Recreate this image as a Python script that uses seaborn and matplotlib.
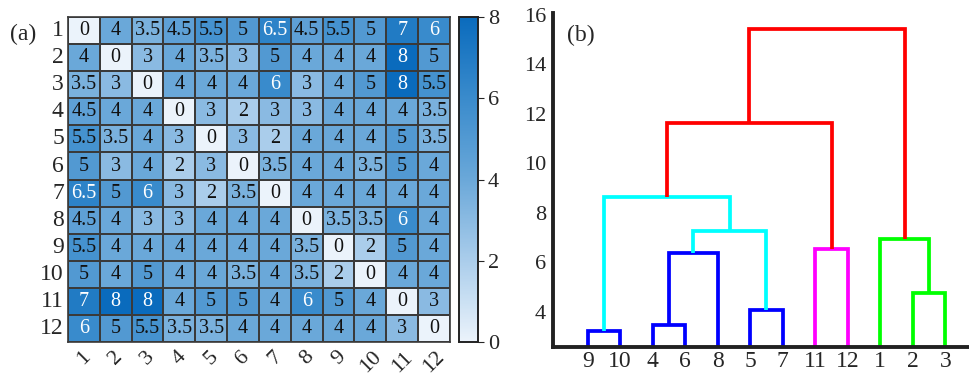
import numpy as np
import pandas as pd
import matplotlib
matplotlib.use("Agg")
import matplotlib.pyplot as plt
from matplotlib.colors import LinearSegmentedColormap
import seaborn as sns

# distance matrix (a)
labels = [str(i) for i in range(1, 13)]
dist = [
    [0, 4, 3.5, 4.5, 5.5, 5, 6.5, 4.5, 5.5, 5, 7, 6],
    [4, 0, 3, 4, 3.5, 3, 5, 4, 4, 4, 8, 5],
    [3.5, 3, 0, 4, 4, 4, 6, 3, 4, 5, 8, 5.5],
    [4.5, 4, 4, 0, 3, 2, 3, 3, 4, 4, 4, 3.5],
    [5.5, 3.5, 4, 3, 0, 3, 2, 4, 4, 4, 5, 3.5],
    [5, 3, 4, 2, 3, 0, 3.5, 4, 4, 3.5, 5, 4],
    [6.5, 5, 6, 3, 2, 3.5, 0, 4, 4, 4, 4, 4],
    [4.5, 4, 3, 3, 4, 4, 4, 0, 3.5, 3.5, 6, 4],
    [5.5, 4, 4, 4, 4, 4, 4, 3.5, 0, 2, 5, 4],
    [5, 4, 5, 4, 4, 3.5, 4, 3.5, 2, 0, 4, 4],
    [7, 8, 8, 4, 5, 5, 4, 6, 5, 4, 0, 3],
    [6, 5, 5.5, 3.5, 3.5, 4, 4, 4, 4, 4, 3, 0],
]
cbar_ticks = [0, 2, 4, 6, 8]

# dendrogram (b)
leaf_order = [9, 10, 4, 6, 8, 5, 7, 11, 12, 1, 2, 3]
# (left, right, height, colour); names "m0", "m1"... refer to earlier merges
merges = [
    (9, 10, 3.23, "#0000ff"),
    (4, 6, 3.46, "#0000ff"),
    ("m1", 8, 6.40, "#0000ff"),
    (5, 7, 4.08, "#0000ff"),
    ("m2", "m3", 7.28, "#00ffff"),
    ("m0", "m4", 8.65, "#00ffff"),
    (11, 12, 6.53, "#ff00ff"),
    ("m5", "m6", 11.63, "#ff0000"),
    (2, 3, 4.78, "#00ff00"),
    (1, "m8", 6.93, "#00ff00"),
    ("m7", "m9", 15.43, "#ff0000"),
]
y_ticks = [4, 6, 8, 10, 12, 14, 16]

sns.set_style("white")
plt.rcParams["font.family"] = ["Liberation Serif", "DejaVu Serif"]

cmap = LinearSegmentedColormap.from_list(
    "blu", ["#ebf3fb", "#aacdeb", "#6aa8d9", "#3a8bcc", "#0a6bbd"])

fig = plt.figure(figsize=(9.7, 3.8), dpi=100)
ax = fig.add_axes([0.0701, 0.10, 0.3938, 0.855])
cax = fig.add_axes([0.4732, 0.10, 0.0196, 0.855])

df = pd.DataFrame(dist, index=labels, columns=labels)
annot = df.map(lambda v: f"{v:g}")
sns.heatmap(df, ax=ax, cbar_ax=cax, cmap=cmap, vmin=0, vmax=8,
            annot=annot, fmt="", linewidths=1.2, linecolor="#3a3a3a",
            annot_kws={"fontsize": 14.5})
vals = df.values.ravel()
for t, v in zip(ax.texts, vals):
    t.set_color("white" if v >= 6 else "#111111")

ax.tick_params(axis="both", length=0, labelsize=17, pad=3)
ax.set_yticklabels(labels, rotation=0)
ax.set_xticklabels(labels, rotation=45, ha="center", va="top", fontsize=16)
ax.tick_params(axis="x", pad=4)
for s in ax.spines.values():
    s.set_visible(True)
    s.set_linewidth(1.2)
    s.set_color("#3a3a3a")
ax.set_xlabel("")
ax.set_ylabel("")
fig.text(0.010, 0.895, "(a)", fontsize=17)

cax.set_yticks(cbar_ticks)
cax.tick_params(labelsize=16, direction="out", length=4, width=0.8, pad=3)
for s in cax.spines.values():
    s.set_visible(True)
    s.set_linewidth(1.2)
    s.set_color("#222222")

# dendrogram
bx = fig.add_axes([0.570, 0.0876, 0.428, 0.877])
pos = {leaf: i for i, leaf in enumerate(leaf_order)}
height = {leaf: 0.0 for leaf in leaf_order}
for k, (a, b, h, col) in enumerate(merges):
    xa, xb = pos[a], pos[b]
    ya, yb = height[a], height[b]
    bx.plot([xa, xa, xb, xb], [ya, h, h, yb], color=col, lw=2.7,
            solid_capstyle="butt", solid_joinstyle="miter")
    pos[f"m{k}"] = (xa + xb) / 2
    height[f"m{k}"] = h

bx.set_xlim(-1.07, 11.7)
bx.set_ylim(2.6, 16.05)
bx.set_yticks(y_ticks)
bx.set_xticks(range(len(leaf_order)))
bx.set_xticklabels([str(l) for l in leaf_order])
bx.tick_params(axis="y", direction="in", length=5, width=2, labelsize=16, pad=5)
bx.tick_params(axis="x", length=0, labelsize=17, pad=3)
for side in ["top", "right"]:
    bx.spines[side].set_visible(False)
for side in ["left", "bottom"]:
    bx.spines[side].set_linewidth(2.8)
    bx.spines[side].set_color("#222222")
bx.text(0.035, 0.965, "(b)", transform=bx.transAxes, fontsize=17, va="top")

fig.savefig("out.png", dpi=100)
